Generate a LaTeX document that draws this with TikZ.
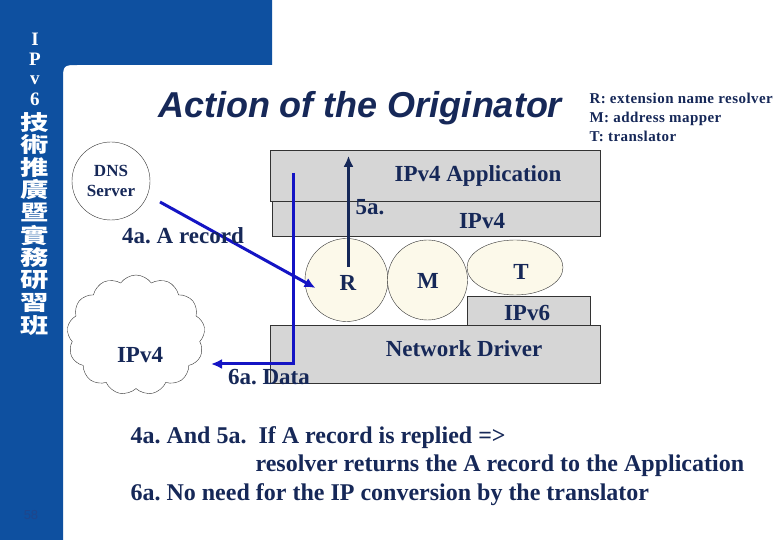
\documentclass[tikz,border=0pt]{standalone}
\usepackage{fontspec}
\setmainfont{Liberation Serif}
\setsansfont{Liberation Sans}
\newfontfamily\cjkfont{Noto Sans CJK TC}
\usetikzlibrary{arrows.meta, positioning, calc, shapes.symbols, shapes.geometric}
\definecolor{slideblue}{RGB}{14,80,160}
\definecolor{pageno}{RGB}{30,70,140}
\definecolor{inkblue}{RGB}{22,40,88}
\definecolor{arrowblue}{RGB}{20,20,196}
\definecolor{layergray}{RGB}{214,214,214}
\definecolor{cream}{RGB}{252,249,234}

\tikzset{
  layer/.style={draw=black!80, thin, fill=layergray, inner sep=0pt},
  module/.style={draw=black!80, thin, fill=cream, inner sep=0pt},
  lbl/.style={text=inkblue, font=\bfseries\fontsize{23}{26}\selectfont},
  sidechar/.style={text=white, inner sep=0pt},
  flow/.style={draw=arrowblue, line width=3pt, -{Latex[length=11pt,width=10pt]}},
}

\begin{document}
\frenchspacing
\begin{tikzpicture}[x=1pt, y=-1pt]
    \useasboundingbox (0,0) rectangle (780,540);

    % Slide background
    \fill[white] (0,0) rectangle (780,540);
    \fill[slideblue] (0,0) -- (272,0) -- (272,65) -- (79,65)
        .. controls (63,65) .. (63,81) -- (63,540) -- (0,540) -- cycle;
    \foreach \ch/\y [count=\i] in {I/39,P/59,v/80,6/99}
        \node[sidechar, font=\bfseries\fontsize{19}{19}\selectfont] (lat\i) at (35,\y) {\ch};
    \foreach \ch [count=\i] in {技,術,推,廣,暨,實,務,研,習,班}
        \node[sidechar, font=\cjkfont\bfseries\fontsize{21}{21}\selectfont, xscale=1.35, transform shape]
            (cjk\i) at (35, 99.5+\i*22.6) {\ch};
    \node[text=pageno, font=\sffamily\fontsize{13}{13}\selectfont] (page) at (31,515) {58};

    % Title and legend
    \node[text=inkblue, font=\sffamily\bfseries\itshape\fontsize{36}{40}\selectfont] (title) at (360,108) {Action of the Originator};
    \node[text=inkblue, font=\bfseries\fontsize{15}{19}\selectfont\addfontfeature{LetterSpace=3}, anchor=west, align=left] (legend) at (586,117)
        {R: extension name resolver\\M: address mapper\\T: translator};

    % Protocol stack
    \node[layer, minimum width=330, minimum height=51] (app) at (435,175.5) {};
    \node[layer, minimum width=328, minimum height=35] (v4) at (436,218.5) {};
    \node[layer, minimum width=330, minimum height=58] (driver) at (435,354) {};
    \node[layer, minimum width=123, minimum height=29] (v6) at (528.5,310.5) {};
    \node[module, circle, minimum size=83] (r) at (346.5,280) {};
    \node[module, circle, minimum size=80] (m) at (427.5,280) {};
    \node[module, ellipse, minimum width=96, minimum height=55] (t) at (515,267.5) {};
    \node[lbl] (applbl) at (478,176) {IPv4 Application};
    \node[lbl] (v4lbl) at (482,221) {IPv4};
    \node[lbl] (drvlbl) at (464,349) {Network Driver};
    \node[lbl] (v6lbl) at (527,313) {IPv6};
    \node[lbl] (rlbl) at (348,283) {R};
    \node[lbl] (mlbl) at (428,281) {M};
    \node[lbl] (tlbl) at (521,272) {T};

    % DNS server and IPv4 cloud
    \node[draw=black!80, thin, circle, minimum size=78, align=center, text=inkblue,
          font=\bfseries\fontsize{17}{20}\selectfont] (dns) at (111,181) {DNS\\Server};
    \node[draw=black!80, thin, cloud, cloud puffs=13, cloud puff arc=110, aspect=1.1,
          minimum width=138, minimum height=120, fill=white] (cloud) at (136,335) {};
    \node[lbl] (cloudlbl) at (140,355) {IPv4};

    % Flows
    \coordinate (datatop) at (293,173);
    \coordinate (datain) at (211,364);
    \draw[flow] ([shift={(49,21)}]dns.center) -- ([shift={(-31,8)}]r.center);
    \draw[flow, draw=inkblue] ([shift={(2,-13)}]r.center) -- ($(r.center |- app.north)+(2,6)$);
    \draw[flow] (datatop) |- (datain);
    \node[lbl] (reclbl) at (183,236) {4a. A record};
    \node[lbl] (fivelbl) at (370,207) {5a.};
    \node[lbl] (datalbl) at (269,377) {6a. Data};

    % Notes
    \node[lbl, font=\bfseries\fontsize{24}{28}\selectfont, anchor=west] (note1) at (127,438) {4a. And 5a.\ \ If A record is replied =>};
    \node[lbl, font=\bfseries\fontsize{24}{28}\selectfont, anchor=west] (note2) at (252,466) {resolver returns the A record to the Application};
    \node[lbl, font=\bfseries\fontsize{24}{28}\selectfont, anchor=west] (note3) at (127,495) {6a. No need for the IP conversion by the translator};
\end{tikzpicture}
\end{document}
